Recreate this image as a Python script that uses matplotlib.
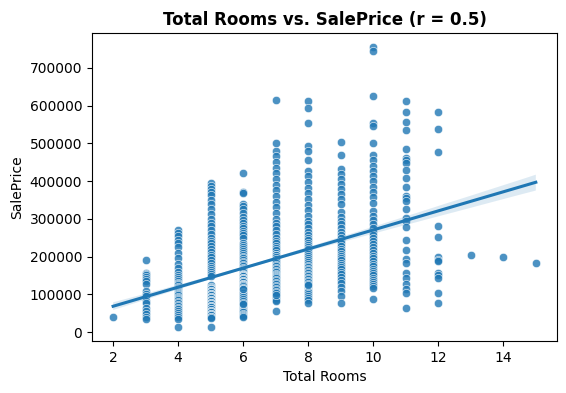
import matplotlib
matplotlib.use("Agg")
import matplotlib.pyplot as plt
import seaborn as sns

# sale prices (in thousands)
rooms_2 = [39]
rooms_3 = [190, 157, 155, 150, 145, 140, 135, 128, 110, 100, 95, 82, 76, 64, 55, 47, 40, 35]
rooms_4 = [270, 262, 255, 245, 235, 225, 210, 195, 180, 170, 160, 152, 145, 140, 135, 130,
           127, 124, 120, 117, 114, 110, 107, 104, 100, 97, 94, 90, 87, 84, 80, 76, 72, 68,
           64, 60, 55, 50, 45, 40, 35, 13]
rooms_5 = [396, 388, 380, 372, 362, 350, 338, 325, 312, 300, 290, 280, 270, 260, 250,
           242, 235, 228, 220, 212, 205, 198, 190, 183, 176, 170, 164, 158, 153, 148,
           124, 120, 117, 114, 111, 108, 106, 104, 102, 100,
           113, 113, 109, 109, 105, 105, 101, 101, 97, 97, 93, 93, 89, 89, 85, 85, 81, 81,
           77, 77, 73, 73, 69, 69, 65, 65, 61, 61, 57, 57, 53, 53, 49, 49, 45, 45, 41, 41,
           37, 14]
rooms_6 = [421, 371, 369, 340, 335, 325, 315, 305, 298, 290, 282, 275, 268, 262, 256, 250,
           235, 230, 225, 220, 215, 210, 205, 200, 195, 190, 186, 182, 178, 174, 170,
           167, 164, 161, 158, 155, 152,
           152, 152, 148, 148, 144, 144, 140, 140, 136, 136, 132, 132, 128, 128, 124, 124,
           120, 120, 116, 116, 112, 112, 108, 108, 104, 104, 100, 100, 96, 96, 92, 92,
           97, 94, 91, 88, 85, 82, 79, 76, 73, 70, 67, 64, 61, 58, 55, 52, 49, 46, 43, 40,
           123, 117, 113, 107, 103, 97, 93, 87, 83, 77, 73, 115]
rooms_7 = [615, 500, 480, 465, 450, 435, 420, 405, 390, 375, 360, 345, 330, 315, 300,
           290, 280, 270, 260, 250, 242, 235, 228, 222, 216, 210, 205, 200,
           196, 192, 188, 184, 180, 177, 174, 171, 168, 165, 162,
           150, 150, 146, 146, 142, 142, 138, 138, 134, 134, 130, 130, 126, 126, 122, 122,
           118, 118, 114, 114, 110, 117, 114, 111, 108, 105, 102, 99, 96, 93, 90, 86, 82, 56,
           205, 199, 193, 187, 182, 178, 174, 170, 166, 162, 158, 155, 152, 149, 146, 143,
           139, 135, 131, 127, 123, 119, 115, 111, 107, 103, 99]
rooms_8 = [612, 593, 553, 493, 480, 456, 427, 412, 397, 382, 367, 352, 337, 322, 307,
           295, 285, 275, 266, 258, 250, 243, 236, 230, 224, 218, 213, 208, 203, 198,
           184, 180, 176, 172, 168, 164, 160, 156, 152, 148, 144, 140, 136, 132, 128, 124,
           120, 116, 112, 108, 104, 110, 105, 100, 95, 90, 85, 78,
           220, 213, 207, 201, 195, 190, 185, 180, 176, 172, 168, 164, 160, 156, 152, 148,
           144, 140, 136, 132, 128, 124]
rooms_9 = [504, 469, 431, 418, 405, 392, 379, 366, 353, 340,
           318, 306, 295, 285, 275, 266, 258, 250, 242, 235, 228, 221, 214, 208, 202, 196,
           190, 184, 178, 172, 166, 160, 153, 146, 138, 130, 120, 108, 95, 78]
rooms_10 = [755, 745, 626, 555, 546, 500, 469, 455, 441, 427, 413, 399, 385, 371, 357, 343,
            320, 308, 296, 285, 275, 266, 258, 250, 242, 234, 226, 218, 210, 202, 195, 188,
            181, 174, 168, 162, 156, 150, 144, 138, 132, 127, 122, 117, 87]
rooms_11 = [612, 584, 556, 535, 484, 460, 455, 449, 429, 409, 383, 361, 354, 347, 325, 303,
            294, 277, 243, 217, 193, 184, 157, 144, 127, 115, 104, 63]
rooms_12 = [583, 537, 477, 281, 252, 200, 192, 188, 157, 150, 144, 103, 77]
rooms_13 = [205]
rooms_14 = [200]
rooms_15 = [184]

columns = [(2, rooms_2), (3, rooms_3), (4, rooms_4), (5, rooms_5), (6, rooms_6),
           (7, rooms_7), (8, rooms_8), (9, rooms_9), (10, rooms_10), (11, rooms_11),
           (12, rooms_12), (13, rooms_13), (14, rooms_14), (15, rooms_15)]

total_rooms = []
sale_price = []
for rooms, prices in columns:
    for p in prices:
        total_rooms.append(rooms)
        sale_price.append(p * 1000)

fig, ax = plt.subplots(figsize=(5.66, 3.93), dpi=100)
fig.subplots_adjust(left=0.1625, right=0.984, top=0.916, bottom=0.132)

sns.scatterplot(x=total_rooms, y=sale_price, alpha=0.8, ax=ax)
sns.regplot(x=total_rooms, y=sale_price, scatter=False, ax=ax, seed=0, ci=60,
            line_kws={"linewidth": 2.2})

ax.set_title("Total Rooms vs. SalePrice (r = 0.5)", fontweight="bold")
ax.set_xlabel("Total Rooms")
ax.set_ylabel("SalePrice")

fig.savefig("out.png", dpi=100)
